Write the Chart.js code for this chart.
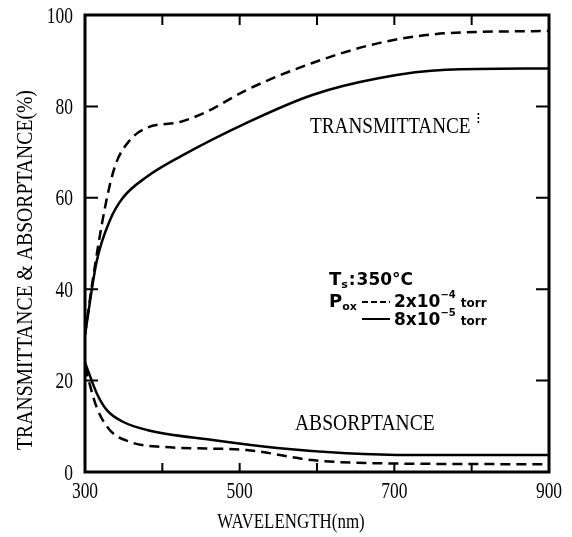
<!DOCTYPE html>
<html>
<head>
<meta charset="utf-8">
<script src="https://cdn.jsdelivr.net/npm/chart.js@4.4.1/dist/chart.umd.min.js"></script>
<style>
  html, body { margin: 0; padding: 0; background: #fff; }
  #wrap { width: 572px; height: 537px; }
</style>
</head>
<body>
<div id="wrap"><canvas id="chart" width="572" height="537"></canvas></div>
<script>
// values: wavelength (nm) and percent
const transDashedX = [300, 310, 326, 339, 358, 380, 423, 457, 509, 594, 681, 767, 900];
const transDashedY = [30, 42, 58, 67, 72.6, 75.3, 76.6, 78.8, 83.6, 89.5, 93.9, 96, 96.5];

const transSolidX = [300, 315, 332, 349, 380, 423, 509, 594, 681, 767, 900];
const transSolidY = [30, 46, 55, 60, 64.6, 69, 76.4, 82.5, 86.2, 88, 88.3];

const absSolidX = [300, 315, 328, 349, 380, 465, 552, 638, 723, 900];
const absSolidY = [24, 17.3, 13.6, 11, 9.2, 7, 5.2, 4.1, 3.7, 3.7];

const absDashedX = [300, 315, 332, 358, 400, 509, 594, 681, 900];
const absDashedY = [23, 14.2, 9.2, 6.6, 5.5, 4.8, 2.6, 1.9, 1.7];

const xTickLabels = [300, 500, 700, 900];
const yTickLabels = [0, 20, 40, 60, 80, 100];

const pts = (xs, ys) => xs.map((x, i) => ({ x: x, y: ys[i] }));

const line = (xs, ys, dashed) => ({
  data: pts(xs, ys),
  borderColor: "#000",
  borderWidth: 2.5,
  borderDash: dashed ? [10, 6] : [],
  pointRadius: 0,
  fill: false,
  cubicInterpolationMode: "monotone"
});

// condensed serif text like the scanned figure
function say(ctx, str, x, y, font, sx, align) {
  ctx.save();
  ctx.translate(x, y);
  ctx.scale(sx, 1);
  ctx.font = font;
  ctx.textAlign = align || "left";
  ctx.textBaseline = "alphabetic";
  ctx.fillStyle = "#000";
  ctx.fillText(str, 0, 0);
  ctx.restore();
}

// run of text pieces, returns x after the run
function run(ctx, x, y, parts) {
  parts.forEach(p => {
    ctx.font = p.font;
    ctx.fillStyle = "#000";
    ctx.textAlign = "left";
    ctx.textBaseline = "alphabetic";
    ctx.fillText(p.t, x, y + (p.dy || 0));
    x += ctx.measureText(p.t).width + (p.gap || 0);
  });
  return x;
}

const frame = {
  id: "frame",
  afterDraw(chart) {
    const ctx = chart.ctx;
    const a = chart.chartArea;
    const xs = chart.scales.x, ys = chart.scales.y;
    const serif = "'Liberation Serif', 'DejaVu Serif', serif";

    ctx.save();
    ctx.strokeStyle = "#000";
    ctx.lineWidth = 3;
    ctx.strokeRect(a.left, a.top, a.right - a.left, a.bottom - a.top);

    // inward ticks on all four sides
    ctx.lineWidth = 2;
    ctx.beginPath();
    xs.ticks.forEach(t => {
      const px = xs.getPixelForValue(t.value);
      ctx.moveTo(px, a.bottom); ctx.lineTo(px, a.bottom - 9);
      ctx.moveTo(px, a.top); ctx.lineTo(px, a.top + 10);
    });
    ys.ticks.forEach(t => {
      const py = ys.getPixelForValue(t.value);
      ctx.moveTo(a.left, py); ctx.lineTo(a.left + 13, py);
      ctx.moveTo(a.right, py); ctx.lineTo(a.right - 13, py);
    });
    ctx.stroke();

    // tick labels
    xTickLabels.forEach(v => {
      say(ctx, String(v), xs.getPixelForValue(v), 498, "23px " + serif, 0.76, "center");
    });
    yTickLabels.forEach(v => {
      say(ctx, String(v), 73, ys.getPixelForValue(v) + 7.5, "23px " + serif, 0.76, "right");
    });

    // axis titles
    say(ctx, "WAVELENGTH(nm)", 291, 528, "22px " + serif, 0.77, "center");
    ctx.save();
    ctx.translate(32, 270);
    ctx.rotate(-Math.PI / 2);
    say(ctx, "TRANSMITTANCE & ABSORPTANCE(%)", 0, 0, "24px " + serif, 0.82, "center");
    ctx.restore();

    // curve labels
    say(ctx, "TRANSMITTANCE", 310, 133, "24px " + serif, 0.8, "left");
    say(ctx, "\u205D", 476, 124, "15px 'DejaVu Sans'", 1, "left");
    say(ctx, "ABSORPTANCE", 295, 430, "23px " + serif, 0.85, "left");

    // legend block
    const b = "bold 17px 'DejaVu Sans'";
    const m = "bold 17px 'DejaVu Sans'";
    const s = "bold 10px 'DejaVu Sans'";
    const tr = "bold 12px 'DejaVu Sans'";
    run(ctx, 329, 285, [
      { t: "T", font: "bold 18px 'DejaVu Sans'" },
      { t: "s", font: "bold 11px 'DejaVu Sans'", dy: 3, gap: 1 },
      { t: ":", font: b, gap: 1 },
      { t: "350°C", font: b }
    ]);
    run(ctx, 329, 307, [
      { t: "P", font: "bold 18px 'DejaVu Sans'" },
      { t: "ox", font: "bold 11px 'DejaVu Sans'", dy: 3 }
    ]);
    ctx.lineWidth = 2;
    ctx.setLineDash([6, 3]);
    ctx.beginPath(); ctx.moveTo(362, 302); ctx.lineTo(390, 302); ctx.stroke();
    ctx.setLineDash([]);
    ctx.beginPath(); ctx.moveTo(362, 319); ctx.lineTo(390, 319); ctx.stroke();
    run(ctx, 394, 307, [
      { t: "2x10", font: m },
      { t: "\u22124", font: s, dy: -9, gap: 5 },
      { t: "torr", font: tr }
    ]);
    run(ctx, 394, 325, [
      { t: "8x10", font: m },
      { t: "\u22125", font: s, dy: -9, gap: 5 },
      { t: "torr", font: tr }
    ]);
    ctx.restore();
  }
};

new Chart(document.getElementById("chart"), {
  type: "line",
  data: {
    datasets: [
      line(transDashedX, transDashedY, true),
      line(transSolidX, transSolidY, false),
      line(absSolidX, absSolidY, false),
      line(absDashedX, absDashedY, true)
    ]
  },
  options: {
    responsive: false,
    animation: false,
    layout: { padding: { top: 15, right: 23, left: 0, bottom: 0 } },
    plugins: { legend: { display: false }, tooltip: { enabled: false } },
    scales: {
      x: {
        type: "linear",
        min: 300, max: 900,
        ticks: { stepSize: 100, display: false },
        grid: { display: false },
        border: { display: false },
        afterFit: s => { s.height = 65; }
      },
      y: {
        min: 0, max: 100,
        ticks: { stepSize: 20, display: false },
        grid: { display: false },
        border: { display: false },
        afterFit: s => { s.width = 85; }
      }
    }
  },
  plugins: [frame]
});
</script>
</body>
</html>
